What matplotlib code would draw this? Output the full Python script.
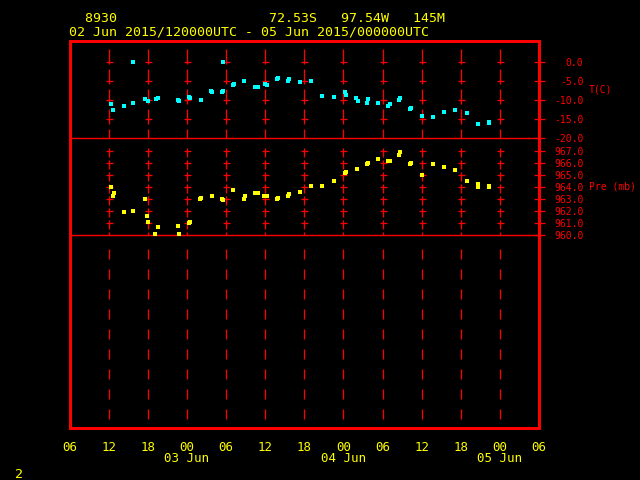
import matplotlib
matplotlib.use('Agg')
import matplotlib.pyplot as plt
import matplotlib.transforms as mtransforms

# hours since 02 Jun 2015 00 UTC
t_hours = [12.4, 12.7, 14.3, 15.8, 15.8, 17.6, 18.1, 19.2, 19.5, 22.7, 22.8, 24.4, 24.5,
           26.1, 27.7, 27.9, 29.4, 29.6, 29.5, 31.1, 31.2, 32.8, 34.5, 34.9, 36.0, 36.3,
           37.8, 38.0, 39.5, 39.7, 41.3, 43.1, 44.7, 46.6, 48.2, 48.4, 50.0, 50.3, 51.6,
           51.8, 53.3, 54.8, 55.1, 56.5, 56.7, 58.2, 58.3, 60.0, 61.7, 63.4, 65.1, 66.9,
           68.6, 70.3, 70.4]
temp = [-11.0, -12.7, -11.5, -10.7, 0.0, -9.7, -10.3, -9.7, -9.4, -10.0, -10.3, -9.2, -9.5,
        -10.0, -7.6, -7.9, -7.8, -7.6, 0.0, -6.0, -5.7, -5.0, -6.5, -6.5, -5.7, -6.0,
        -4.5, -4.3, -5.0, -4.5, -5.3, -5.0, -9.0, -9.2, -7.9, -8.6, -9.5, -10.3, -10.7,
        -9.7, -10.8, -11.6, -11.0, -10.0, -9.5, -12.3, -12.0, -14.2, -14.4, -13.1, -12.6,
        -13.4, -16.3, -15.7, -16.0]

p_hours = [12.4, 12.9, 12.7, 14.3, 15.8, 17.6, 17.9, 18.1, 19.5, 19.1, 22.7, 22.8, 24.4,
           24.5, 26.0, 26.2, 27.8, 29.4, 29.6, 31.1, 32.8, 32.9, 34.5, 34.9, 35.9, 36.3,
           37.8, 38.0, 39.5, 39.7, 41.3, 43.0, 44.7, 46.5, 48.2, 48.4, 50.1, 51.6, 51.8,
           53.3, 54.8, 55.1, 56.5, 56.7, 58.2, 58.3, 60.0, 61.7, 63.4, 65.1, 66.9, 68.6,
           68.7, 70.3, 70.4]
pres = [964.0, 963.5, 963.3, 961.9, 962.0, 963.0, 961.6, 961.1, 960.7, 960.1, 960.8, 960.1,
        961.0, 961.1, 963.0, 963.1, 963.3, 963.0, 962.9, 963.8, 963.0, 963.3, 963.5, 963.5,
        963.3, 963.3, 963.0, 963.1, 963.3, 963.4, 963.6, 964.1, 964.1, 964.5, 965.2, 965.3,
        965.5, 965.9, 966.0, 966.3, 966.2, 966.2, 966.7, 966.9, 965.9, 966.0, 965.0, 965.9,
        965.7, 965.4, 964.5, 964.3, 964.0, 964.1, 964.0]

hour_ticks = [6, 12, 18, 24, 30, 36, 42, 48, 54, 60, 66, 72, 78]
hour_labels = ['06', '12', '18', '00', '06', '12', '18', '00', '06', '12', '18', '00', '06']
date_pos = [24, 48, 72]
date_labels = ['03 Jun', '04 Jun', '05 Jun']
t_levels = [0, -5, -10, -15, -20]
p_levels = [960, 961, 962, 963, 964, 965, 966, 967]

header1 = '  8930                   72.53S   97.54W   145M'
header2 = '02 Jun 2015/120000UTC - 05 Jun 2015/000000UTC'

red = '#ff0000'
yellow = '#ffff00'
cyan = '#00ffff'
mono = 'DejaVu Sans Mono'
px = 0.72  # one pixel in points at dpi 100

plt.rcParams['lines.scale_dashes'] = False

fig = plt.figure(figsize=(6.4, 4.8), dpi=100, facecolor='black')
ax_p = fig.add_axes([0.1086, 0.1083, 0.7336, 0.6036], facecolor='black')
ax_t = fig.add_axes([0.1086, 0.7119, 0.7336, 0.2037], facecolor='none')

for ax in (ax_t, ax_p):
    ax.set_xlim(6, 78)
    for side in ('left', 'right', 'top', 'bottom'):
        ax.spines[side].set_color(red)
        ax.spines[side].set_linewidth(3 * px)
    ax.tick_params(axis='y', which='both', left=False, right=True, labelleft=False,
                   labelright=True, direction='inout', length=11 * px, width=1.3 * px,
                   color=red, labelcolor=red, labelsize=7, pad=28)
    ax.yaxis.set_ticks_position('right')

ax_t.spines['bottom'].set_linewidth(1.4 * px)
ax_p.spines['top'].set_visible(False)

# temperature panel
ax_t.set_ylim(-20, 5.54)
ax_t.set_yticks(t_levels)
ax_t.set_yticklabels(['%.1f' % v for v in t_levels])
ax_t.set_xticks([])

# pressure panel
ax_p.set_ylim(944.0, 968.06)
ax_p.set_yticks(p_levels)
ax_p.set_yticklabels(['%.1f' % v for v in p_levels])
ax_p.set_xticks(hour_ticks)
ax_p.set_xticklabels(hour_labels)
ax_p.tick_params(axis='x', length=0, pad=9, labelcolor=yellow, labelsize=9)

for ax in (ax_t, ax_p):
    for lab in ax.get_yticklabels():
        lab.set_family(mono)
        lab.set_horizontalalignment('right')
for lab in ax_p.get_xticklabels():
    lab.set_family(mono)

# dashed vertical grid with small crosses
glw = 1.3 * px
for h in hour_ticks[1:-1]:
    ax_t.plot([h, h], [3.3, -20], color=red, lw=glw, dashes=(15 * px, 5 * px), zorder=1)
    ax_t.plot([h] * 4, t_levels[:4], ls='none', marker='_', ms=7 * px, mew=glw,
              color=red, zorder=1)
    ax_p.plot([h, h], [967.25, 960], color=red, lw=glw, dashes=(9 * px, 3 * px), zorder=1)
    ax_p.plot([h] * 7, p_levels[1:], ls='none', marker='_', ms=7 * px, mew=glw,
              color=red, zorder=1)
    ax_p.plot([h, h], [958.86, 944.74], color=red, lw=glw, dashes=(10 * px, 10 * px),
              zorder=1)
ax_p.axhline(960, color=red, lw=1.4 * px, zorder=1)

# observations
ax_t.plot(t_hours, temp, ls='none', marker='s', ms=5 * px, mew=0, color=cyan, zorder=3)
ax_p.plot(p_hours, pres, ls='none', marker='s', ms=5 * px, mew=0, color=yellow, zorder=3)

# date labels under the hours
trans = mtransforms.blended_transform_factory(ax_p.transData, fig.transFigure)
for pos, lab in zip(date_pos, date_labels):
    fig.text(pos, 1 - 459 / 480, lab, transform=trans, ha='center', va='center',
             color=yellow, fontsize=9, family=mono)

# header and side labels
fig.text(69 / 640, 1 - 18.3 / 480, header1, color=yellow, fontsize=9.5, family=mono,
         va='center', ha='left')
fig.text(69 / 640, 1 - 32 / 480, header2, color=yellow, fontsize=9.5, family=mono,
         va='center', ha='left')
fig.text(588.7 / 640, 1 - 90 / 480, 'T(C)', color=red, fontsize=7, family=mono,
         va='center', ha='left')
fig.text(588.7 / 640, 1 - 186.7 / 480, 'Pre (mb)', color=red, fontsize=7, family=mono,
         va='center', ha='left')
fig.text(19 / 640, 1 - 474 / 480, '2', color=yellow, fontsize=9.5, family=mono,
         va='center', ha='center')

fig.savefig('out.png', dpi=100, facecolor='black')
